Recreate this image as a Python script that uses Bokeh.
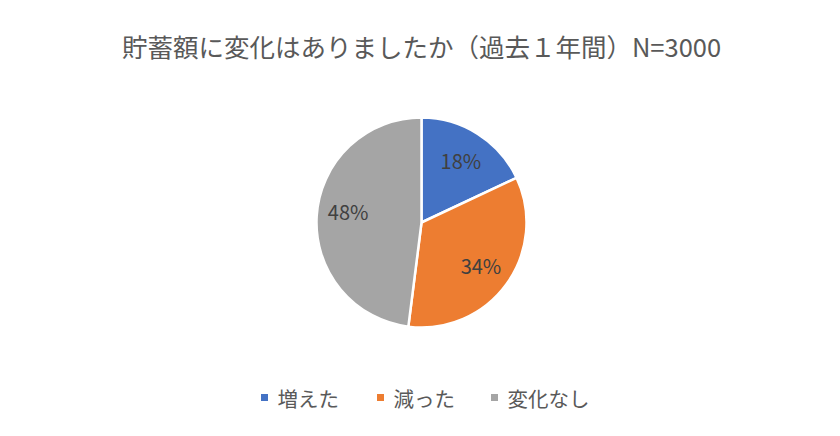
import math
from bokeh.plotting import figure
from bokeh.models import Range1d, ColumnDataSource
from bokeh.core.properties import value
from bokeh.embed import file_html
from bokeh.resources import INLINE

title_text = "貯蓄額に変化はありましたか（過去１年間）N=3000"
categories = ["増えた", "減った", "変化なし"]
shares = [18, 34, 48]
colors = ["#4472C4", "#ED7D31", "#A5A5A5"]

W, H = 824, 420
FONT = "Noto Sans CJK JP"
OFF = 0

p = figure(width=W, height=H, output_backend="svg", toolbar_location=None,
           x_range=Range1d(0, W), y_range=Range1d(0, H), min_border=0)
p.axis.visible = False
p.grid.visible = False
p.outline_line_color = None
p.background_fill_color = "white"
p.border_fill_color = "white"

def fx(x_img):
    return x_img - OFF

def fy(y_img):
    return H - (y_img - OFF)

cx, cy, r = fx(421), fy(222), 105

total = float(sum(shares))
starts, ends, lx, ly, labels = [], [], [], [], []
cum = 0.0
for s in shares:
    a0 = cum / total * 2 * math.pi
    cum += s
    a1 = cum / total * 2 * math.pi
    starts.append(math.pi / 2 - a1)
    ends.append(math.pi / 2 - a0)
    mid = (a0 + a1) / 2
    lx.append(cx + 0.70 * r * math.sin(mid))
    ly.append(cy + 0.70 * r * math.cos(mid) + (6 if s == max(shares) else 0))
    labels.append(f"{s}%")

src = ColumnDataSource(dict(start=starts, end=ends, color=colors,
                            lx=lx, ly=ly, label=labels, cat=categories))
p.wedge(x=cx, y=cy, radius=r, start_angle="start", end_angle="end",
        fill_color="color", line_color="white", line_width=2.5, source=src)
p.text(x="lx", y="ly", text="label", source=src, text_align="center",
       text_baseline="middle", text_font=value(FONT), text_font_size="20px",
       text_color="#404040")

# title
p.text(x=[fx(421)], y=[fy(45)], text=[title_text], text_align="center",
       text_baseline="middle", text_font=value(FONT), text_font_size="25.5px",
       text_color="#595959")

# legend
leg_y = fy(397)
sq_x = [fx(264), fx(380), fx(494)]
p.scatter(x=sq_x, y=[leg_y] * 3, marker="square", size=7, fill_color=colors,
          line_color=None)
p.text(x=[x + 13 for x in sq_x], y=[leg_y] * 3, text=categories,
       text_align="left", text_baseline="middle", text_font=value(FONT),
       text_font_size="20.5px", text_color="#595959")

open("out.html", "w").write(file_html(p, INLINE))
